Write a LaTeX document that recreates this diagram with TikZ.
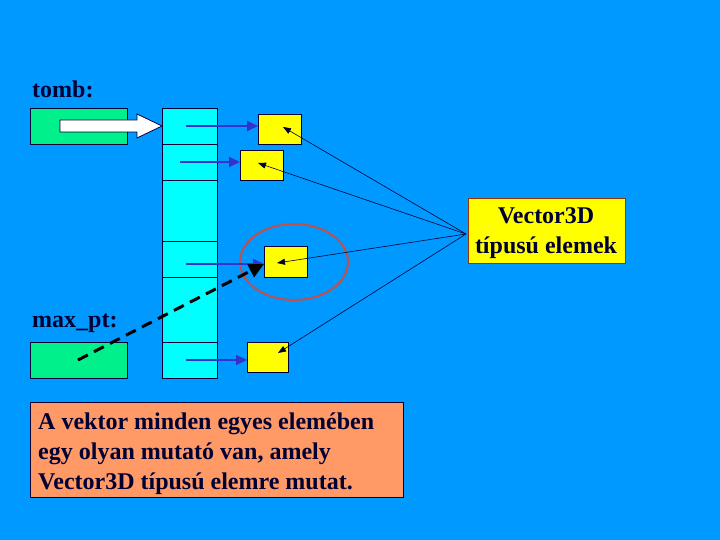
\documentclass[tikz,border=0pt]{standalone}
\usepackage{fontspec}
\setmainfont{Liberation Serif}
\usetikzlibrary{arrows.meta}
\definecolor{bg}{HTML}{0099FF}
\definecolor{cellc}{HTML}{00FFFF}
\definecolor{greenc}{HTML}{00F08C}
\definecolor{yel}{HTML}{FFFF00}
\definecolor{orng}{HTML}{FF9966}
\definecolor{ink}{HTML}{000033}
\definecolor{bluea}{HTML}{3333CC}
\definecolor{ellc}{HTML}{C0504D}
\definecolor{brd}{HTML}{993300}
\begin{document}
\begin{tikzpicture}[x=1pt,y=-1pt,
  box/.style={draw=ink,line width=0.8pt,anchor=north west,inner sep=0pt,outer sep=0pt},
  cell/.style={box,fill=cellc,minimum width=55pt},
  ptr/.style={box,fill=yel},
  grn/.style={box,fill=greenc,minimum width=97pt,minimum height=36pt},
  lbl/.style={font=\bfseries\fontsize{24}{28}\selectfont,text=ink,anchor=base west,inner sep=0pt},
  bluearrow/.style={draw=bluea,line width=1.8pt,-{Triangle[length=11pt,width=10pt]}},
  thinarrow/.style={draw=ink,line width=0.6pt,-{Triangle[length=8pt,width=6pt]}}]
\fill[bg] (0,0) rectangle (720,540);
% labels
\node[lbl] (tomb) at (32,98) {tomb:};
\node[lbl] (maxpt) at (32,327) {max\_pt:};
% green boxes
\node[grn] (g1) at (30,108) {};
\node[grn] (g2) at (30,342) {};
% array cells
\node[cell,minimum height=36pt] (c1) at (162,108) {};
\node[cell,minimum height=36pt] (c2) at (162,144) {};
\node[cell,minimum height=61pt] (c3) at (162,180) {};
\node[cell,minimum height=36pt] (c4) at (162,241) {};
\node[cell,minimum height=65pt] (c5) at (162,277) {};
\node[cell,minimum height=36pt] (c6) at (162,342) {};
% white arrow
\draw[ink,line width=0.8pt,fill=white] (60,120) -- (137,120) -- (137,114) -- (c1.west) -- (137,138) -- (137,132) -- (60,132) -- cycle;
% yellow boxes
\node[ptr,minimum width=43pt,minimum height=30pt] (b1) at (258,114) {};
\node[ptr,minimum width=43pt,minimum height=30pt] (b2) at (240,150) {};
\node[ptr,minimum width=43pt,minimum height=31pt] (b3) at (264,246) {};
\node[ptr,minimum width=41pt,minimum height=30pt] (b4) at (247,342) {};
% ellipse
\draw[ellc,line width=2pt] (294,262) ellipse [x radius=54, y radius=38];
% blue arrows
\coordinate (s1) at (186,126);
\coordinate (s2) at (180,162);
\coordinate (s3) at (186,264);
\coordinate (s4) at (186,360);
\draw[bluearrow] (s1) -- (s1 -| b1.west);
\draw[bluearrow] (s2) -- (s2 -| b2.west);
\draw[bluearrow] (s3) -- (s3 -| b3.west);
\draw[bluearrow] (s4) -- (s4 -| b4.west);
% Vector3D box
\node[draw=brd,line width=0.8pt,fill=yel,anchor=north west,minimum width=157pt,minimum height=65pt,inner sep=0pt] (vec) at (468,198) {};
\node[lbl,anchor=base] (vt1) at (546,224) {Vector3D};
\node[lbl,anchor=base] (vt2) at (546,254) {típusú elemek};
% thin arrows
\coordinate (hub) at (466,234);
\coordinate (t1) at (283,127);
\coordinate (t2) at (258,163);
\coordinate (t3) at (277,263);
\coordinate (t4) at (278,353);
\draw[thinarrow] (hub) -- (t1);
\draw[thinarrow] (hub) -- (t2);
\draw[thinarrow] (hub) -- (t3);
\draw[thinarrow] (hub) -- (t4);
% dashed arrow
\coordinate (d0) at (78,360);
\coordinate (d1) at (264,264);
\draw[black,line width=3pt,dash pattern=on 11pt off 7pt,-{Triangle[length=15pt,width=14pt]}] (d0) -- (d1);
% bottom note
\node[draw=ink,line width=0.8pt,fill=orng,anchor=north west,minimum width=373pt,minimum height=95pt,inner sep=0pt] (note) at (30,402) {};
\node[lbl] (n1) at (38,429) {A vektor minden egyes elemében};
\node[lbl] (n2) at (38,459) {egy olyan mutató van, amely};
\node[lbl] (n3) at (38,489) {Vector3D típusú elemre mutat.};
\end{tikzpicture}
\end{document}
